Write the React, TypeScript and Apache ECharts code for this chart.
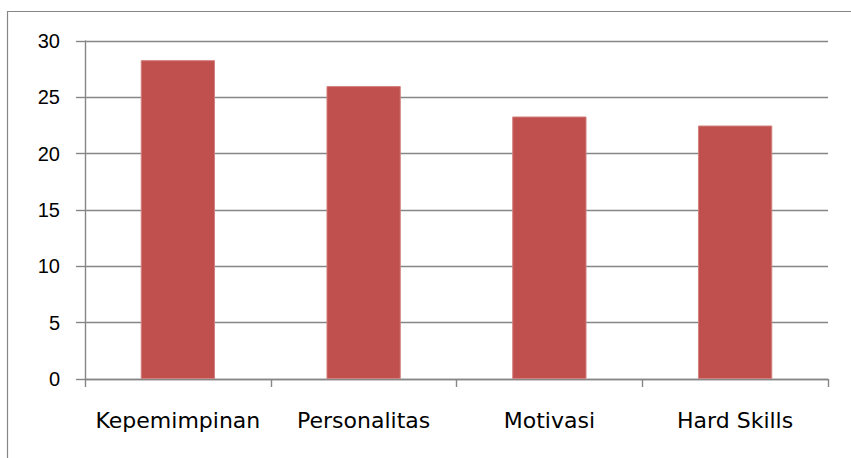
import React, { useEffect, useRef } from "react";
import * as echarts from "echarts";

const categories = ["Kepemimpinan", "Personalitas", "Motivasi", "Hard Skills"];
const values = [28.3, 26.0, 23.3, 22.5];
const yTicks = { min: 0, max: 30, interval: 5 };

export default function App() {
  const ref = useRef<HTMLDivElement>(null);
  useEffect(() => {
    if (!ref.current) return;
    const chart = echarts.init(ref.current, null, { renderer: "svg" });
    const gray = "#868686";
    chart.setOption({
      animation: false,
      backgroundColor: "#ffffff",
      graphic: [
        {
          type: "rect",
          shape: { x: 7.5, y: 11.5, width: 900, height: 500 },
          style: { fill: "none", stroke: gray, lineWidth: 1.2 },
          silent: true,
        },
      ],
      grid: { left: 85, top: 41, right: 23, bottom: 79, containLabel: false },
      xAxis: {
        type: "category",
        data: categories,
        axisLine: { show: true, lineStyle: { color: gray, width: 1.4 } },
        axisTick: { show: true, alignWithLabel: false, length: 8, lineStyle: { color: gray, width: 1.4 } },
        axisLabel: {
          interval: 0,
          margin: 30,
          color: "#000000",
          fontSize: 22,
          fontFamily: "DejaVu Sans",
        },
      },
      yAxis: {
        type: "value",
        min: yTicks.min,
        max: yTicks.max,
        interval: yTicks.interval,
        axisLine: { show: true, lineStyle: { color: gray, width: 1.4 } },
        axisTick: { show: true, length: 9, lineStyle: { color: gray, width: 1.4 } },
        splitLine: { show: true, lineStyle: { color: gray, width: 1.4 } },
        axisLabel: {
          margin: 25,
          color: "#000000",
          fontSize: 20,
          fontFamily: "Liberation Sans",
        },
      },
      series: [
        {
          type: "bar",
          data: values,
          barWidth: "40%",
          itemStyle: { color: "#C0504D", borderColor: "#d3817e", borderWidth: 1 },
        },
      ],
    });
    return () => chart.dispose();
  }, []);
  return (
    <div
      ref={ref}
      style={{ position: "absolute", left: 0, top: 0, width: 851, height: 458 }}
    />
  );
}
